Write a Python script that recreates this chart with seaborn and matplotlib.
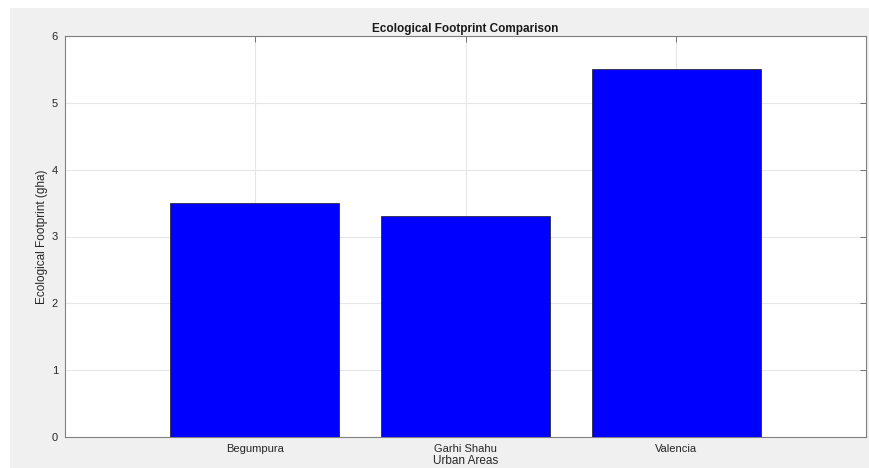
import matplotlib.pyplot as plt
import pandas as pd
import seaborn as sns
from matplotlib.patches import Rectangle

AREAS = ["Begumpura", "Garhi Shahu", "Valencia"]
FOOTPRINT = [3.5, 3.3, 5.5]
Y_TICKS = [0, 1, 2, 3, 4, 5, 6]


def main() -> None:
    df = pd.DataFrame({"area": AREAS, "footprint": FOOTPRINT})

    sns.set_theme(style="white")
    plt.rcParams["font.family"] = ["Liberation Sans", "DejaVu Sans"]

    fig = plt.figure(figsize=(8.69, 4.68), dpi=100)
    fig.patch.set_facecolor("white")
    # grey figure panel like a MATLAB window
    fig.patches.append(
        Rectangle((10 / 869, 0), 1, 1 - 8 / 468, transform=fig.transFigure,
                  facecolor="#f0f0f0", edgecolor="none", zorder=-5)
    )
    ax = fig.add_axes([65 / 869, 31 / 468, 801 / 869, 401 / 468])
    ax.set_facecolor("white")

    sns.barplot(data=df, x="area", y="footprint", color="#0000ff",
                saturation=1, width=0.8, edgecolor="#1a1a1a", linewidth=0.5,
                errorbar=None, ax=ax, zorder=3)

    ax.set_xlim(-0.9, 2.9)
    ax.set_ylim(0, 6)
    ax.set_yticks(Y_TICKS)
    ax.grid(True, color="#e6e6e6", linewidth=0.8, zorder=0)
    ax.set_axisbelow(True)
    for side in ["left", "right", "top", "bottom"]:
        ax.spines[side].set_visible(True)
        ax.spines[side].set_color("#808080")
        ax.spines[side].set_linewidth(0.8)
    ax.tick_params(direction="in", length=4, width=0.6, color="#606060",
                   top=True, right=True, labelsize=8, labelcolor="#262626",
                   pad=5)

    ax.set_title("Ecological Footprint Comparison", fontsize=8.5,
                 fontweight="bold", color="#1a1a1a", pad=3)
    ax.set_xlabel("Urban Areas", fontsize=8.5, color="#262626", labelpad=1)
    ax.set_ylabel("Ecological Footprint (gha)", fontsize=8.5, color="#262626",
                  labelpad=3)

    fig.savefig("out.png", dpi=100)


if __name__ == "__main__":
    main()
